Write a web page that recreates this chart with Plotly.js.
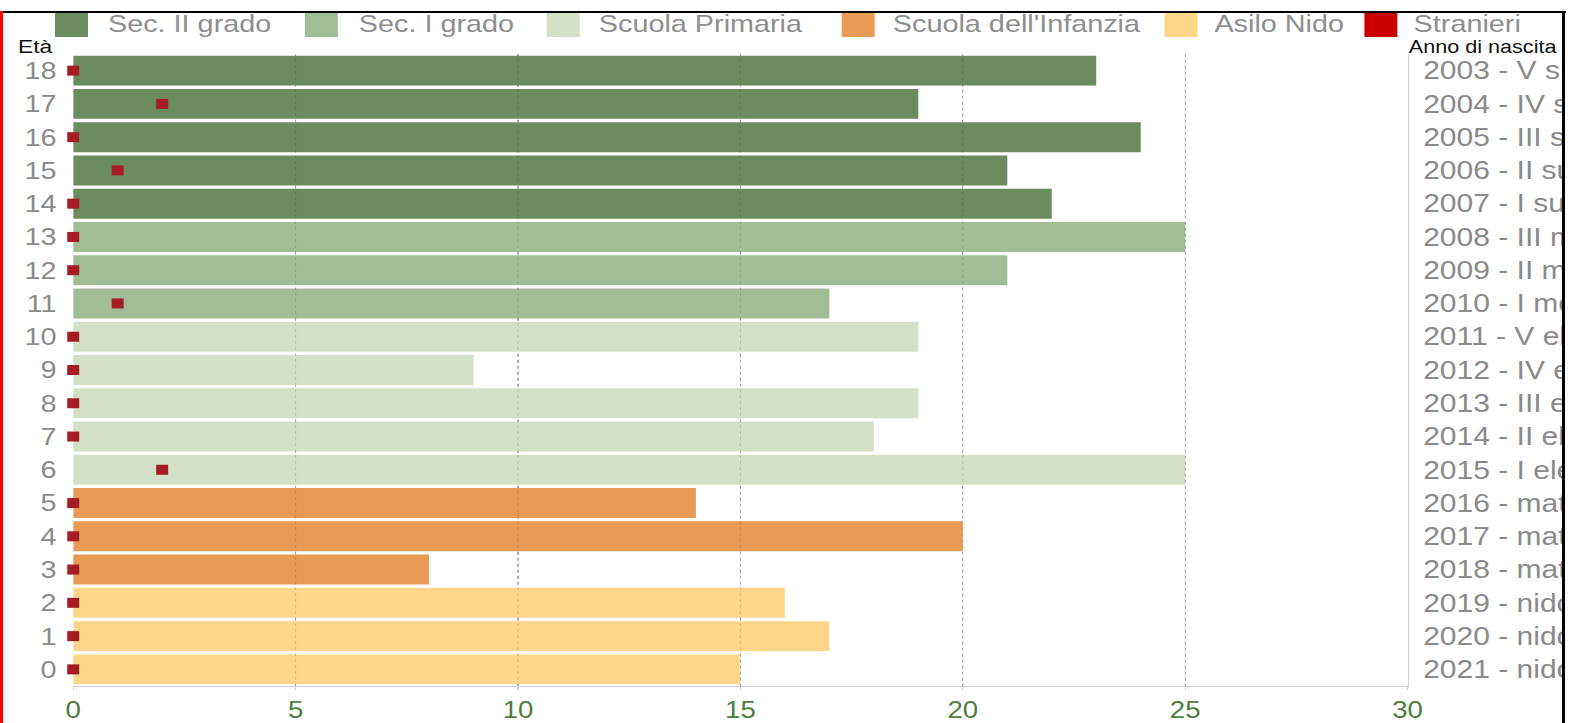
<!DOCTYPE html>
<html>
<head>
<meta charset="utf-8">
<script src="https://cdn.plot.ly/plotly-3.0.1.min.js"></script>
<style>
  html, body { margin:0; padding:0; background:#fff; width:1573px; height:723px; overflow:hidden; }
  #frame { position:absolute; left:0; top:11px; width:1566px; height:712px; overflow:hidden; background:#fff; }
  #plot { position:absolute; left:0; top:-11px; width:1303px; height:723px; transform:scaleX(1.2); transform-origin:0 0; }
  .line { position:absolute; }
</style>
</head>
<body>
<div id="frame"><div id="plot"></div></div>
<div class="line" style="left:0;top:11px;width:1566px;height:2px;background:#000"></div>
<div class="line" style="left:0;top:11px;width:3px;height:712px;background:#f00"></div>
<div class="line" style="left:1562px;top:11px;width:3px;height:712px;background:#000"></div>
<script>
// ---- data ----
const ages = [0,1,2,3,4,5,6,7,8,9,10,11,12,13,14,15,16,17,18];
const totals = [15,17,16,8,20,14,25,18,19,9,19,17,21,25,22,21,24,19,23];
const stranieri = [0,0,0,0,0,0,2,0,0,0,0,1,0,0,0,1,0,2,0];
const levelOfAge = ['Asilo Nido','Asilo Nido','Asilo Nido',
  "Scuola dell'Infanzia","Scuola dell'Infanzia","Scuola dell'Infanzia",
  'Scuola Primaria','Scuola Primaria','Scuola Primaria','Scuola Primaria','Scuola Primaria',
  'Sec. I grado','Sec. I grado','Sec. I grado',
  'Sec. II grado','Sec. II grado','Sec. II grado','Sec. II grado','Sec. II grado'];
const birthLabels = ['2021 - nido','2020 - nido','2019 - nido','2018 - materna','2017 - materna','2016 - materna',
  '2015 - I elementare','2014 - II elementare','2013 - III elementare','2012 - IV elementare','2011 - V elementare',
  '2010 - I media','2009 - II media','2008 - III media',
  '2007 - I superiore','2006 - II superiore','2005 - III superiore','2004 - IV superiore','2003 - V superiore'];
const levels = ['Sec. II grado','Sec. I grado','Scuola Primaria',"Scuola dell'Infanzia",'Asilo Nido','Stranieri'];
const gridTicks = [5,10,15,20,25];

// ---- styles ----
const levelColors = {'Sec. II grado':'#6b8c5e','Sec. I grado':'#a1bd96','Scuola Primaria':'#d4e0c6',
  "Scuola dell'Infanzia":'#e99b56','Asilo Nido':'#fed68a','Stranieri':'#cc0000'};
const strColor = '#a61c24';
const SX = 1.2;                 // horizontal stretch of the picture
const L = 61, R = 129.5, T = 54, B = 37, W = 1303, H = 723;
const PW = W - L - R, PH = H - T - B;
const px = xs => (xs / SX - L) / PW;     // screen x -> paper
const py = ys => (H - B - ys) / PH;      // screen y -> paper
const legendSwatchX = [55, 305, 547, 842, 1165, 1365];
const legendTextX = [106, 356, 597, 891, 1213, 1412];

const traces = [];
levels.slice(0,5).forEach(lv => {
  const ys = [], xs = [];
  ages.forEach((a,i) => { if (levelOfAge[i] === lv) { ys.push(a); xs.push(totals[i]); } });
  traces.push({type:'bar', orientation:'h', name:lv, y:ys, x:xs, width:0.9,
    marker:{color:levelColors[lv], line:{width:0}}, hoverinfo:'x+y', showlegend:false});
});
traces.push({type:'scatter', mode:'markers', name:'Stranieri', x:stranieri, y:ages, yaxis:'y2',
  cliponaxis:false, showlegend:false,
  marker:{symbol:'square', size:10, color:strColor, line:{width:0}}});

const shapes = [], annotations = [];
// faint dotted grid lines seen through the bars
gridTicks.forEach(v => shapes.push({type:'line', xref:'x', yref:'paper', x0:v, x1:v, y0:0, y1:1,
  layer:'above', line:{color:'rgba(60,60,60,0.18)', width:1, dash:'dot'}}));
levels.forEach((lv,i) => {
  shapes.push({type:'rect', xref:'paper', yref:'paper', x0:px(legendSwatchX[i]), x1:px(legendSwatchX[i]+33),
    y0:py(37), y1:py(12), fillcolor:levelColors[lv], line:{width:0}});
  annotations.push({xref:'paper', yref:'paper', x:px(legendTextX[i]), y:py(24), xanchor:'left', yanchor:'middle',
    text:lv, showarrow:false, font:{size:24, color:'#8e8e8e'}});
});
annotations.push({xref:'paper', yref:'paper', x:px(16), y:py(47), xanchor:'left', yanchor:'middle',
  text:'Età', showarrow:false, font:{size:19, color:'#111'}});
annotations.push({xref:'paper', yref:'paper', x:px(1407), y:py(47), xanchor:'left', yanchor:'middle',
  text:'Anno di nascita', showarrow:false, font:{size:18, color:'#111'}});

const layout = {
  width:W, height:H, margin:{l:L, r:R, t:T, b:B, pad:0},
  paper_bgcolor:'#fff', plot_bgcolor:'#fff',
  font:{family:'Liberation Sans, Arial, sans-serif'},
  barmode:'overlay', showlegend:false,
  xaxis:{range:[0,30], dtick:5, tick0:0, showgrid:true, gridcolor:'#bdbdbd', griddash:'dot', gridwidth:1,
    zeroline:false, showline:true, linecolor:'#cfcfcf', linewidth:1,
    ticks:'outside', ticklen:3, tickcolor:'#cfcfcf', tickfont:{size:23, color:'#4d7e3e'}, fixedrange:true},
  yaxis:{range:[-0.5,18.5], tickvals:ages, ticktext:ages.map(String), showgrid:false, zeroline:false,
    showline:false, ticks:'outside', ticklen:8, tickcolor:'rgba(0,0,0,0)', tickfont:{size:24, color:'#8a8a8a'}, fixedrange:true},
  yaxis2:{range:[-0.5,18.5], overlaying:'y', side:'right', tickvals:ages, ticktext:birthLabels,
    showgrid:false, zeroline:false, showline:true, linecolor:'#cfcfcf', linewidth:1,
    ticks:'outside', ticklen:7, tickcolor:'rgba(0,0,0,0)', tickfont:{size:25, color:'#8a8a8a'}, fixedrange:true},
  shapes:shapes, annotations:annotations
};
Plotly.newPlot('plot', traces, layout, {displayModeBar:false, staticPlot:true});
</script>
</body>
</html>
